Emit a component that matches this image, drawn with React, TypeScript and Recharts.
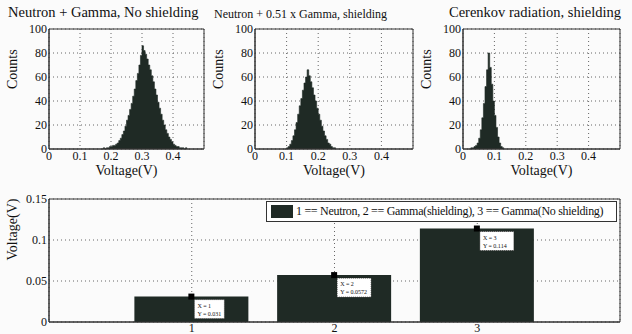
import React from 'react'
import {
  AreaChart,
  Area,
  BarChart,
  Bar,
  XAxis,
  YAxis,
  CartesianGrid,
  ReferenceArea,
  LabelList,
} from 'recharts'

// histogram bins: 0.005 V wide, counts
const binWidth = 0.005

const noShieldStart = 0.17
const noShieldCounts = [
  0, 1, 0, 1, 1, 2, 2, 3, 3, 4, 5, 7, 9, 12, 15, 19, 24, 28, 33, 38, 44, 50, 57, 63, 70, 78, 86, 82,
  79, 75, 70, 66, 61, 56, 50, 45, 39, 34, 29, 24, 20, 16, 13, 10, 8, 6, 4, 3, 2, 2, 1, 1, 1, 0, 1, 0,
]

const shieldStart = 0.095
const shieldCounts = [
  0, 1, 2, 4, 7, 11, 16, 22, 29, 36, 42, 49, 55, 60, 66, 61, 56, 51, 45, 40, 34, 29, 24, 19, 15, 11,
  8, 5, 4, 2, 1, 1, 0,
]

const cerenkovStart = 0.02
const cerenkovCounts = [0, 1, 1, 2, 3, 5, 9, 16, 26, 38, 52, 66, 80, 68, 54, 40, 28, 18, 10, 5, 2, 1, 0]

const histXTicks = [0, 0.1, 0.2, 0.3, 0.4]
const histYTicks = [0, 20, 40, 60, 80, 100]

// bar chart
const barX = [1, 2, 3]
const barVoltage = [0.031, 0.0572, 0.114]
const barTipText = ['0.031', '0.0572', '0.114']
const barXTicks = [1, 2, 3]
const barYTicks = [0, 0.05, 0.1, 0.15]
const legendText = '1 == Neutron, 2 == Gamma(shielding), 3 == Gamma(No shielding)'

const FONT = '"Liberation Serif", "DejaVu Serif", serif'
const INK = '#1f2a25'

function bins(start: number, counts: number[]) {
  return counts.map((c, i) => ({ v: +(start + i * binWidth).toFixed(3), c }))
}

type HistProps = {
  left: number
  plotWidth: number
  start: number
  counts: number[]
  title: string
  titleSize: number
  titleLeft: number
  titleTop: number
}

function Histogram({ left, plotWidth, start, counts, title, titleSize, titleLeft, titleTop }: HistProps) {
  const yw = 49
  return (
    <>
      <div
        style={{
          position: 'absolute',
          left: titleLeft,
          top: titleTop,
          fontFamily: FONT,
          fontSize: titleSize,
          color: '#111',
          whiteSpace: 'nowrap',
          lineHeight: 1,
        }}
      >
        {title}
      </div>
      <div style={{ position: 'absolute', left, top: 0 }}>
        <AreaChart
          width={yw + plotWidth + 4}
          height={180}
          data={bins(start, counts)}
          margin={{ top: 29, right: 4, bottom: 0, left: 0 }}
        >
          <CartesianGrid stroke="#666" strokeDasharray="1 3" />
          <XAxis
            dataKey="v"
            type="number"
            domain={[0, 0.5]}
            ticks={histXTicks}
            tickLine={false}
            axisLine={{ stroke: '#333' }}
            height={31}
            tickMargin={0}
            tickSize={2}
            tick={{ fontSize: 12, fill: '#111', fontFamily: FONT }}
            label={{ value: 'Voltage(V)', position: 'insideBottom', offset: 5, fontSize: 14, fill: '#111', fontFamily: FONT }}
          />
          <YAxis
            type="number"
            domain={[0, 100]}
            ticks={histYTicks}
            tickLine={false}
            axisLine={{ stroke: '#333' }}
            width={yw}
            tickMargin={1}
            tickSize={1}
            tick={{ fontSize: 12, fill: '#111', fontFamily: FONT }}
            label={{ value: 'Counts', angle: -90, position: 'insideLeft', offset: 12, fontSize: 14, fill: '#111', fontFamily: FONT }}
          />
          <Area
            type="stepAfter"
            dataKey="c"
            stroke={INK}
            strokeWidth={0.6}
            fill={INK}
            fillOpacity={1}
            isAnimationActive={false}
          />
          <ReferenceArea x1={0} x2={0.5} y1={0} y2={100} fill="none" stroke="#333" strokeWidth={1} ifOverflow="visible" />
        </AreaChart>
      </div>
    </>
  )
}

function DataTip(props: any) {
  const { x, y, width, index } = props
  const cx = x + width / 2
  const boxW = index === 0 ? 30 : 34
  return (
    <g>
      <rect x={cx - 3} y={y - 3} width={6} height={6} fill="#000" />
      <rect x={cx + 3} y={y + 3} width={boxW} height={19} fill="#fff" stroke="#222" strokeWidth={0.7} strokeDasharray="1 1" />
      <text x={cx + 6} y={y + 11} fontSize={6} fontFamily={FONT} fill="#111">
        {`X = ${barX[index]}`}
      </text>
      <text x={cx + 6} y={y + 19} fontSize={6} fontFamily={FONT} fill="#111">
        {`Y = ${barTipText[index]}`}
      </text>
    </g>
  )
}

export default function App() {
  const barData = barX.map((x, i) => ({ x, v: barVoltage[i] }))
  return (
    <div style={{ position: 'absolute', left: 0, top: 0, width: 632, height: 334, background: '#fbfbfb', overflow: 'hidden' }}>
      <Histogram
        left={0}
        plotWidth={155}
        start={noShieldStart}
        counts={noShieldCounts}
        title="Neutron + Gamma, No shielding"
        titleSize={14.5}
        titleLeft={8}
        titleTop={5}
      />
      <Histogram
        left={206}
        plotWidth={158}
        start={shieldStart}
        counts={shieldCounts}
        title="Neutron + 0.51 x Gamma, shielding"
        titleSize={12}
        titleLeft={214}
        titleTop={8}
      />
      <Histogram
        left={414}
        plotWidth={157}
        start={cerenkovStart}
        counts={cerenkovCounts}
        title="Cerenkov radiation, shielding"
        titleSize={14.5}
        titleLeft={449}
        titleTop={5}
      />
      <div style={{ position: 'absolute', left: 0, top: 180 }}>
        <BarChart width={632} height={154} data={barData} margin={{ top: 19, right: 12, bottom: 0, left: 0 }}>
          <CartesianGrid stroke="#666" strokeDasharray="1 3" />
          <XAxis
            dataKey="x"
            type="number"
            domain={[0, 4]}
            ticks={barXTicks}
            tickLine={false}
            axisLine={{ stroke: '#333' }}
            height={12}
            tickSize={1}
            tickMargin={0}
            tick={{ fontSize: 12, fill: '#111', fontFamily: FONT }}
          />
          <YAxis
            type="number"
            domain={[0, 0.15]}
            ticks={barYTicks}
            tickLine={false}
            axisLine={{ stroke: '#333' }}
            width={49}
            tickMargin={1}
            tickSize={1}
            tick={{ fontSize: 12, fill: '#111', fontFamily: FONT }}
            label={{ value: 'Voltage(V)', angle: -90, position: 'insideLeft', offset: 12, fontSize: 14, fill: '#111', fontFamily: FONT }}
          />
          <Bar dataKey="v" fill={INK} barSize={114} isAnimationActive={false}>
            <LabelList dataKey="v" content={DataTip} />
          </Bar>
          <ReferenceArea x1={0} x2={4} y1={0} y2={0.15} fill="none" stroke="#333" strokeWidth={1} ifOverflow="visible" />
        </BarChart>
      </div>
      <div
        style={{
          position: 'absolute',
          left: 266,
          top: 201,
          display: 'flex',
          alignItems: 'center',
          width: 351,
          height: 21,
          boxSizing: 'border-box',
          border: '1px solid #333',
          background: '#fff',
          fontFamily: FONT,
          fontSize: 12,
          color: '#111',
          paddingLeft: 4,
          whiteSpace: 'nowrap',
          overflow: 'hidden',
        }}
      >
        <span style={{ display: 'inline-block', flex: 'none', width: 22, height: 13, background: INK, marginRight: 3 }} />
        <span style={{ letterSpacing: -0.3 }}>{legendText}</span>
      </div>
    </div>
  )
}
